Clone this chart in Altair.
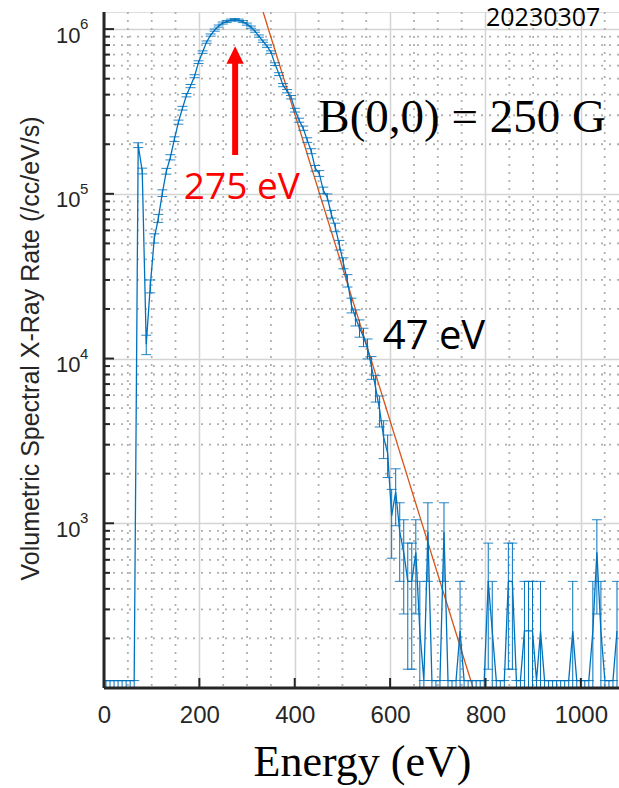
import math
import altair as alt
import pandas as pd

# ---------------- data ----------------
BIN_WIDTH = 8.4375          # eV per channel
COUNT_RATE = 222.0          # rate (/cc/eV/s) represented by one detected count
# detected counts per energy channel (channel centres at (i+0.5)*BIN_WIDTH)
counts = [
    0, 0, 0, 0, 0, 0, 0, 0, 890, 620,
    55, 124, 242, 320, 455, 618, 751, 968, 1227, 1491,
    1789, 2031, 2332, 2838, 3266, 3757, 4145, 4441, 4700, 4901,
    5005, 5108, 5144, 5108, 5005, 4829, 4631, 4378, 4086, 3807,
    3550, 3266, 2761, 2401, 2059, 1892, 1739, 1451, 1261, 1128,
    955, 818, 644, 599, 473, 429, 339, 282, 220, 171,
    134, 95, 80, 69, 61, 52, 40, 30, 22, 15,
    12, 5, 7, 4, 3, 2, 2, 3, 1, 0,
    4, 0, 0, 0, 4, 0, 0, 0, 1, 0,
    0, 0, 0, 0, 0, 2, 1, 0, 0, 0,
    2, 2, 0, 0, 1, 1, 1, 0, 1, 0,
    0, 0, 0, 0, 0, 0, 1, 0, 0, 0,
    0, 1, 3, 1, 0, 0, 0, 1,
]

# exponential fit (T = 47 eV), two end points
fit_energy = [333.7, 774.0]
fit_rate = [1.27e6, 100.0]

Y_MIN, Y_MAX = 100.0, 1.27e6
X_MIN, X_MAX = 0.0, 1080.0

x_major = [0, 200, 400, 600, 800, 1000]
x_minor = [v for v in range(50, 1080, 50) if v % 200 != 0]
y_major = [1e3, 1e4, 1e5, 1e6]
y_exponents = ["3", "4", "5", "6"]
y_minor = [m * 10 ** k for k in range(2, 6) for m in range(2, 10)]

ann_serif = pd.DataFrame({"text": ["B(0,0) = 250 G"], "e": [751.0], "r": [2.886e5]})
ann_date = pd.DataFrame({"text": ["20230307"], "e": [921.0], "r": [1.168e6]})
ann_red = pd.DataFrame({"text": ["275 eV"], "e": [289.0], "r": [1.085e5]})
ann_temp = pd.DataFrame({"text": ["47 eV"], "e": [692.0], "r": [1.351e4]})
arrow_shaft = pd.DataFrame({"e": [275.0], "r": [1.72e5], "r2": [6.23e5]})
arrow_head = pd.DataFrame({"e": [275.0], "r": [6.96e5]})

# ---------------- table ----------------
rows = []
for i, c in enumerate(counts):
    e = (i + 0.5) * BIN_WIDTH
    if c > 0:
        v = c * COUNT_RATE
        lo = max((c - math.sqrt(c)) * COUNT_RATE, Y_MIN)
        hi = (c + math.sqrt(c)) * COUNT_RATE
    else:
        v = 0.5 * COUNT_RATE
        lo = Y_MIN
        hi = v
    rows.append({"energy": e, "rate": v, "lower": lo, "upper": hi})
df = pd.DataFrame(rows)
fit_df = pd.DataFrame({"energy": fit_energy, "rate": fit_rate})
exp_df = pd.DataFrame({"r": y_major, "text": y_exponents})

BLUE = "#0072BD"
ORANGE = "#D95319"
RED = "#FF0000"
AX = "#262626"
W, H = 515, 676

xs = alt.Scale(domain=[X_MIN, X_MAX], nice=False, zero=False)
ys = alt.Scale(type="log", domain=[Y_MIN, Y_MAX], nice=False)

x_axis = alt.Axis(
    values=x_major, format="d", title="Energy (eV)", titleFont="Liberation Serif",
    titleFontSize=44, titleFontWeight="normal", titleColor="black",
    titleX=258, titleY=74, titleBaseline="middle", titleAlign="center",
    labelFont="Liberation Sans", labelFontSize=24, labelColor=AX,
    labelPadding=15, ticks=False, domain=False, grid=True,
    gridColor="#d4d4d4", gridWidth=1.5, labelFlush=False,
)
y_axis = alt.Axis(
    values=y_major, labelExpr="'10'",
    title="Volumetric Spectral X-Ray Rate (/cc/eV/s)", titleFont="Liberation Sans",
    titleFontSize=25, titleFontWeight="normal", titleColor=AX,
    titleX=-74, titleY=336, titleBaseline="middle", titleAlign="center", titleAngle=270,
    labelFont="Liberation Sans", labelFontSize=22, labelColor=AX,
    labelPadding=24, labelOffset=6, ticks=False, domain=False, grid=True,
    gridColor="#d4d4d4", gridWidth=1.5, labelFlush=False,
)


def X(field):
    return alt.X(field, scale=xs, axis=x_axis)


def Y(field):
    return alt.Y(field, scale=ys, axis=y_axis)


minor_x_grid = alt.Chart(pd.DataFrame({"e": x_minor})).mark_rule(
    color="#b0b0b0", strokeWidth=1.8, strokeDash=[2, 6]
).encode(x=X("e:Q"))

minor_y_grid = alt.Chart(pd.DataFrame({"r": y_minor})).mark_rule(
    color="#b0b0b0", strokeWidth=1.8, strokeDash=[2, 6]
).encode(y=Y("r:Q"))

fit = alt.Chart(fit_df).mark_line(color=ORANGE, strokeWidth=1.3, clip=True).encode(
    x=X("energy:Q"), y=Y("rate:Q")
)

err = alt.Chart(df).mark_rule(color=BLUE, strokeWidth=1, clip=True).encode(
    x=X("energy:Q"), y=Y("lower:Q"), y2="upper:Q",
)
cap_hi = alt.Chart(df).mark_tick(orient="horizontal", size=10, thickness=1, color=BLUE, opacity=0.85, clip=True).encode(
    x=X("energy:Q"), y=Y("upper:Q")
)
cap_lo = alt.Chart(df).mark_tick(orient="horizontal", size=10, thickness=1, color=BLUE, opacity=0.85, clip=True).encode(
    x=X("energy:Q"), y=Y("lower:Q")
)

line = alt.Chart(df).mark_line(color=BLUE, strokeWidth=1.3, clip=True).encode(
    x=X("energy:Q"), y=Y("rate:Q")
)

shaft = alt.Chart(arrow_shaft).mark_rule(color=RED, strokeWidth=6, strokeCap="butt").encode(
    x=X("e:Q"), y=Y("r:Q"), y2="r2:Q"
)
head = alt.Chart(arrow_head).mark_point(
    shape="M0,-1L1,1L-1,1Z", size=300, filled=True, color=RED, opacity=1, strokeWidth=0
).encode(x=X("e:Q"), y=Y("r:Q"))


def text_layer(data, font, size, color):
    return alt.Chart(data).mark_text(
        font=font, fontSize=size, color=color, align="center", baseline="middle"
    ).encode(x=X("e:Q"), y=Y("r:Q"), text="text:N")


t_serif = text_layer(ann_serif, "Liberation Serif", 47, "black")
t_date = text_layer(ann_date, "Open Sans", 25, "black")
t_red = text_layer(ann_red, "Open Sans", 37, RED)
t_temp = text_layer(ann_temp, "Open Sans", 40, "black")

# exponent of the y tick labels (10^n)
t_exp = alt.Chart(exp_df).mark_text(
    font="Liberation Sans", fontSize=15, color=AX, align="left", baseline="middle", dy=-5
).encode(y=Y("r:Q"), x=alt.value(-24), text="text:N")

one = pd.DataFrame({"a": [0]})
x_ticks = alt.Chart(pd.DataFrame({"e": x_major})).mark_rule(color=AX, strokeWidth=2).encode(
    x=X("e:Q"), y=alt.value(H - 10), y2=alt.value(H)
)
y_ticks = alt.Chart(pd.DataFrame({"r": y_major})).mark_rule(color=AX, strokeWidth=2).encode(
    y=Y("r:Q"), x=alt.value(0), x2=alt.value(10)
)
y_mticks = alt.Chart(pd.DataFrame({"r": y_minor})).mark_rule(color=AX, strokeWidth=2).encode(
    y=Y("r:Q"), x=alt.value(0), x2=alt.value(6)
)
left_line = alt.Chart(one).mark_rule(color=AX, strokeWidth=3).encode(
    x=alt.value(0), y=alt.value(0), y2=alt.value(H)
)
bottom_line = alt.Chart(one).mark_rule(color=AX, strokeWidth=3).encode(
    x=alt.value(0), x2=alt.value(W), y=alt.value(H)
)

chart = alt.layer(
    minor_x_grid, minor_y_grid, fit, err, cap_hi, cap_lo, line,
    shaft, head, t_serif, t_date, t_red, t_temp, t_exp,
    x_ticks, y_ticks, y_mticks, left_line, bottom_line,
).properties(
    width=W, height=H,
    autosize=alt.AutoSizeParams(type="none"),
    padding={"left": 104, "top": 12, "right": 0, "bottom": 100},
).configure_view(stroke=None).configure(background="white")

chart.save("out.html", embed_options={"renderer": "svg", "actions": False})
